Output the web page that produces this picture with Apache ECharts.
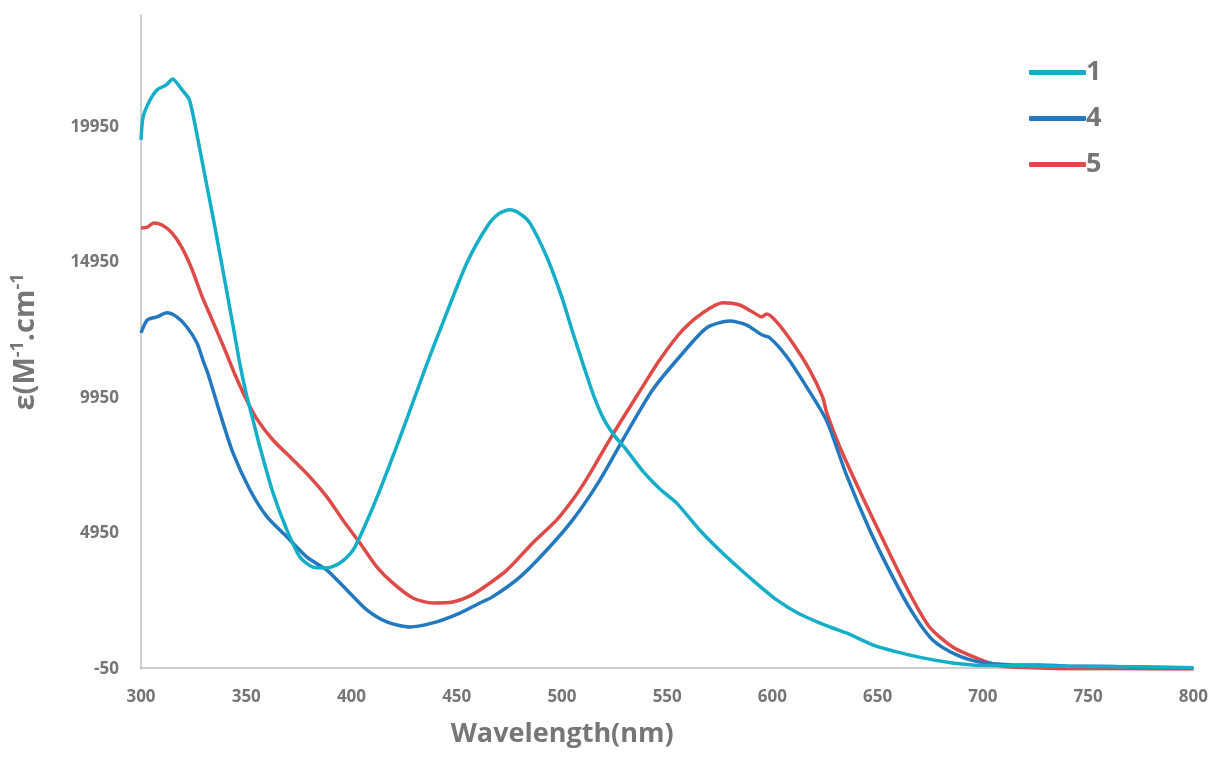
<!DOCTYPE html>
<html>
<head>
<meta charset="utf-8">
<script src="https://cdn.jsdelivr.net/npm/echarts@6/dist/echarts.min.js"></script>
<style>
html,body{margin:0;padding:0;background:#fff;}
#chart{width:1211px;height:757px;}
</style>
</head>
<body>
<div id="chart"></div>
<script>
// ---- data ----
var seriesNames = ['1', '4', '5'];
var yTickLabels = [-50, 4950, 9950, 14950, 19950];

var wl1 = [300,301,304,307.6,312,315,319.5,323,328,331,335,340,344,347,350,353,356.5,362.7,369.3,375.5,381.7,388.3,394.5,400.7,407.3,413.5,419.7,426.4,432.5,438,443.4,454.8,464.3,470,475.2,480,484.7,492.8,500,505,510,515,520,525,530,538.4,546.4,554.5,565.4,578.3,590.6,602,612.9,627.2,635.2,647.6,659,671.3,685.6,695,705,720,740,760,780,800];
var eps1 = [19470,20320,20900,21315,21500,21720,21315,20950,19100,17900,16300,14200,12500,11200,10100,9200,8140,6450,5080,4080,3710,3680,3860,4330,5400,6550,7800,9200,10500,11650,12720,14930,16260,16750,16890,16750,16410,15150,13650,12400,11200,10050,9150,8550,8100,7250,6600,6070,5080,4080,3230,2500,1980,1500,1280,840,580,360,170,100,80,70,50,40,20,0];

var wl4 = [300,303,307.6,312.3,317,321.8,326.6,329.4,332,337.5,343.7,351.8,359.9,369.4,378.8,388.3,397.8,407.3,416.8,427.7,438.7,451.5,461,467,480,492.8,505.1,518,530.8,543.1,555.9,568.8,579.7,587.8,594.9,598.7,606.8,616.2,625.8,635.2,646.2,657.1,666.6,676.1,687.5,698.4,714,727,740,760,780,800];
var eps4 = [12350,12830,12940,13090,12940,12570,11980,11350,10800,9400,7920,6555,5560,4820,4080,3600,2865,2130,1685,1500,1650,2015,2385,2610,3340,4340,5450,6920,8660,10250,11470,12540,12790,12640,12280,12170,11470,10360,9100,7100,5080,3350,2020,1020,470,210,100,100,60,40,10,-10];

var wl5 = [300,303,306,310,314.7,319.5,324.2,329,334,340,345,350,355,362.7,372.2,380.2,388.3,395.9,404,412.1,419.7,429.2,438.7,448.1,455,461,473.8,486.1,497.5,507,513.2,524.1,537,546.4,557.4,566.9,576.4,584.4,590.6,594.9,597.2,602,609.6,617.7,623.8,625.8,632,642.8,654.2,665.1,674.6,685.6,697,706.5,714,727,740,760,780,800];
var eps5 = [16220,16250,16410,16330,16040,15490,14700,13700,12800,11700,10750,9900,9180,8400,7670,7040,6300,5450,4600,3710,3120,2570,2385,2420,2600,2865,3600,4600,5450,6400,7150,8600,10200,11350,12460,13090,13460,13380,13120,12940,13050,12760,11980,10980,9990,9400,8140,6300,4450,2750,1500,760,350,100,20,-10,-40,-40,-50,-50];

var colors = ['#14AEC6', '#2478BE', '#DE4A48'];

function pairs(xs, ys) {
  var out = [];
  for (var i = 0; i < xs.length; i++) out.push([xs[i], ys[i]]);
  return out;
}
var allData = [pairs(wl1, eps1), pairs(wl4, eps4), pairs(wl5, eps5)];

var textGray = '#767676';
var fontFam = '"Open Sans", "Noto Sans", sans-serif';

var chart = echarts.init(document.getElementById('chart'), null, {renderer: 'canvas'});
chart.setOption({
  animation: false,
  backgroundColor: '#ffffff',
  color: colors,
  grid: {left: 141, right: 17, top: 15, bottom: 88, containLabel: false},
  legend: {
    orient: 'vertical',
    left: 1024,
    top: 54,
    itemWidth: 57,
    itemHeight: 5,
    itemGap: 19,
    icon: 'roundRect',
    data: seriesNames,
    textStyle: {color: textGray, fontSize: 27, fontWeight: 'bold', fontFamily: fontFam, padding: [0, 0, 0, -5]}
  },
  xAxis: {
    type: 'value',
    min: 300,
    max: 800,
    interval: 50,
    name: 'Wavelength(nm)',
    nameLocation: 'middle',
    nameGap: 52,
    nameTextStyle: {color: textGray, fontSize: 27, fontWeight: 'bold', fontFamily: fontFam, padding: [0, 210, 0, 0]},
    axisLine: {show: true, lineStyle: {color: '#BFBFBF', width: 1.5}},
    axisTick: {show: false},
    splitLine: {show: false},
    axisLabel: {color: textGray, fontSize: 17, fontWeight: 'bold', fontFamily: fontFam, margin: 20}
  },
  yAxis: {
    type: 'value',
    min: -50,
    max: 24080,
    name: '{a|ε(M}{s|-1}{a|.cm}{s|-1}',
    nameLocation: 'middle',
    nameRotate: 90,
    nameGap: 98,
    nameTextStyle: {
      color: textGray, fontSize: 29, fontWeight: 'bold', fontFamily: fontFam,
      rich: {
        a: {color: textGray, fontSize: 29, fontWeight: 'bold', fontFamily: fontFam, lineHeight: 34},
        s: {color: textGray, fontSize: 18, fontWeight: 'bold', fontFamily: fontFam, verticalAlign: 'top', lineHeight: 34}
      }
    },
    axisLine: {show: true, lineStyle: {color: '#BFBFBF', width: 1.5}},
    axisTick: {show: false},
    splitLine: {show: false},
    axisLabel: {
      color: textGray, fontSize: 17, fontWeight: 'bold', fontFamily: fontFam, margin: 22,
      customValues: yTickLabels,
      formatter: function (v) { return String(v); }
    }
  },
  series: seriesNames.map(function (n, i) {
    return {
      name: n,
      type: 'line',
      data: allData[i],
      showSymbol: false,
      smooth: 0.25,
      lineStyle: {width: 3.5, color: colors[i]},
      itemStyle: {color: colors[i]},
      z: 3 - i
    };
  })
});
</script>
</body>
</html>
